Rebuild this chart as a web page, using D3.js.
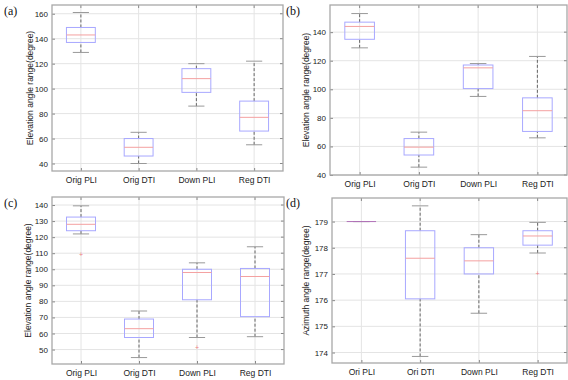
<!DOCTYPE html>
<html>
<head>
<meta charset="utf-8">
<script src="https://cdn.jsdelivr.net/npm/d3@7"></script>
<style>
  body { margin: 0; background: #fff; }
  svg { display: block; font-family: "Liberation Sans", Arial, sans-serif; }
</style>
</head>
<body>
<div id="chart"></div>
<script>
// box stats: [lowWhisker, q1, median, q3, highWhisker]
const catsElev = ["Orig PLI", "Orig DTI", "Down PLI", "Reg DTI"];
const catsAzim = ["Ori PLI", "Ori DTI", "Down PLI", "Reg DTI"];

const statsA = [[129, 137, 143, 149, 161], [40, 46, 53, 60, 65], [86, 97, 108, 116, 120], [55, 66, 77, 90, 122]];
const statsB = [[129, 135, 144, 147, 153], [45.5, 54, 59.5, 65.5, 70], [95, 100.5, 115, 117, 118], [66, 70.5, 85, 94, 123]];
const statsC = [[122, 124, 128, 132.5, 139.5], [45, 57.5, 63, 69, 74], [57.5, 81, 98, 100, 104], [58, 70.5, 95.5, 100.5, 114]];
const statsD = [[179, 179, 179, 179, 179], [173.85, 176.05, 177.6, 178.65, 179.6], [175.5, 177, 177.5, 178, 178.5], [177.8, 178.1, 178.45, 178.65, 178.97]];

const outliersA = [[], [], [], []];
const outliersB = [[], [], [], []];
const outliersC = [[109], [], [51], []];
const outliersD = [[], [], [], [177.0]];

const ticksA = [40, 60, 80, 100, 120, 140, 160];
const ticksB = [40, 60, 80, 100, 120, 140];
const ticksC = [50, 60, 70, 80, 90, 100, 110, 120, 130, 140];
const ticksD = [174, 175, 176, 177, 178, 179];

const panels = [
  { tag: "(a)", cats: catsElev, stats: statsA, out: outliersA, ticks: ticksA, domain: [34, 167],
    label: "Elevation angle range(degree)", box: [52, 283, 5, 171], lx: 4, ly: 15, yl: 30 },
  { tag: "(b)", cats: catsElev, stats: statsB, out: outliersB, ticks: ticksB, domain: [40, 159],
    label: "Elevation angle range(degree)", box: [330, 567, 5, 175], lx: 286, ly: 15, yl: 306 },
  { tag: "(c)", cats: catsElev, stats: statsC, out: outliersC, ticks: ticksC, domain: [41, 145],
    label: "Elevation angle range(degree)", box: [52, 284, 197, 364], lx: 4, ly: 207, yl: 28 },
  { tag: "(d)", cats: catsAzim, stats: statsD, out: outliersD, ticks: ticksD, domain: [173.6, 179.9],
    label: "Azimuth angle range(degree)", box: [332, 567, 198, 363], lx: 286, ly: 207, yl: 306 }
];

const svg = d3.select("#chart").append("svg").attr("width", 568).attr("height", 380);

panels.forEach(p => {
  const [x0, x1, y0, y1] = p.box;
  const g = svg.append("g");

  const x = d3.scalePoint().domain(p.cats).range([x0, x1]).padding(0.5);
  const y = d3.scaleLinear().domain(p.domain).range([y1, y0]);
  const bw = x.step() * 0.5;

  // grid
  g.selectAll(".hg").data(p.ticks).join("line")
    .attr("x1", x0).attr("x2", x1)
    .attr("y1", d => y(d)).attr("y2", d => y(d))
    .attr("stroke", "#e4e4e4").attr("stroke-width", 1);
  g.selectAll(".vg").data(p.cats).join("line")
    .attr("x1", d => x(d)).attr("x2", d => x(d))
    .attr("y1", y0).attr("y2", y1)
    .attr("stroke", "#e4e4e4").attr("stroke-width", 1);

  // axes
  const yAxis = g.append("g").attr("transform", `translate(${x0},0)`)
    .call(d3.axisLeft(y).tickValues(p.ticks).tickFormat(d3.format("d"))
      .tickSizeInner(-3).tickSizeOuter(0).tickPadding(4));
  yAxis.select(".domain").remove();
  yAxis.selectAll("line").attr("stroke", "#888");
  yAxis.selectAll("text").attr("font-size", 8).attr("fill", "#222");

  const xAxis = g.append("g").attr("transform", `translate(0,${y1})`)
    .call(d3.axisBottom(x).tickSizeInner(-3).tickSizeOuter(0).tickPadding(6));
  xAxis.select(".domain").remove();
  xAxis.selectAll("line").attr("stroke", "#888");
  xAxis.selectAll("text").attr("font-size", 8.5).attr("fill", "#222");

  // top & right ticks
  g.selectAll(".tt").data(p.cats).join("line")
    .attr("x1", d => x(d)).attr("x2", d => x(d)).attr("y1", y0).attr("y2", y0 + 3)
    .attr("stroke", "#888");
  g.selectAll(".rt").data(p.ticks).join("line")
    .attr("x1", x1).attr("x2", x1 - 3).attr("y1", d => y(d)).attr("y2", d => y(d))
    .attr("stroke", "#888");

  // frame
  g.append("rect").attr("x", x0).attr("y", y0).attr("width", x1 - x0).attr("height", y1 - y0)
    .attr("fill", "none").attr("stroke", "#a8a8a8").attr("stroke-width", 1.3);

  // boxes
  const items = p.stats.map((s, i) => ({ cat: p.cats[i], s, out: p.out[i] }));
  const bx = g.selectAll(".box").data(items).join("g");

  bx.append("line")
    .attr("x1", d => x(d.cat)).attr("x2", d => x(d.cat))
    .attr("y1", d => y(d.s[3])).attr("y2", d => y(d.s[4]))
    .attr("stroke", "#666").attr("stroke-dasharray", "3,2");
  bx.append("line")
    .attr("x1", d => x(d.cat)).attr("x2", d => x(d.cat))
    .attr("y1", d => y(d.s[0])).attr("y2", d => y(d.s[1]))
    .attr("stroke", "#666").attr("stroke-dasharray", "3,2");
  [0, 4].forEach(k => {
    bx.append("line")
      .attr("x1", d => x(d.cat) - bw * 0.28).attr("x2", d => x(d.cat) + bw * 0.28)
      .attr("y1", d => y(d.s[k])).attr("y2", d => y(d.s[k]))
      .attr("stroke", "#999");
  });
  bx.append("rect")
    .attr("x", d => x(d.cat) - bw / 2).attr("width", bw)
    .attr("y", d => y(d.s[3])).attr("height", d => y(d.s[1]) - y(d.s[3]))
    .attr("fill", "none").attr("stroke", "#a8a8ff").attr("stroke-width", 1);
  bx.append("line")
    .attr("x1", d => x(d.cat) - bw / 2).attr("x2", d => x(d.cat) + bw / 2)
    .attr("y1", d => y(d.s[2])).attr("y2", d => y(d.s[2]))
    .attr("stroke", d => d.s[1] === d.s[3] ? "#b070b8" : "#f4a0a0").attr("stroke-width", 1);

  bx.each(function(d) {
    d3.select(this).selectAll(".o").data(d.out).join("text")
      .attr("x", x(d.cat)).attr("y", v => y(v) + 2.5)
      .attr("text-anchor", "middle").attr("font-size", 7).attr("fill", "#f08080")
      .text("+");
  });

  // labels
  svg.append("text").attr("x", p.lx).attr("y", p.ly)
    .attr("font-family", "Liberation Serif, serif").attr("font-size", 12).attr("fill", "#111")
    .text(p.tag);
  svg.append("text")
    .attr("transform", `translate(${p.yl},${(y0 + y1) / 2}) rotate(-90)`)
    .attr("text-anchor", "middle").attr("dy", "0.35em")
    .attr("font-size", 8.5).attr("fill", "#222")
    .text(p.label);
});
</script>
</body>
</html>
